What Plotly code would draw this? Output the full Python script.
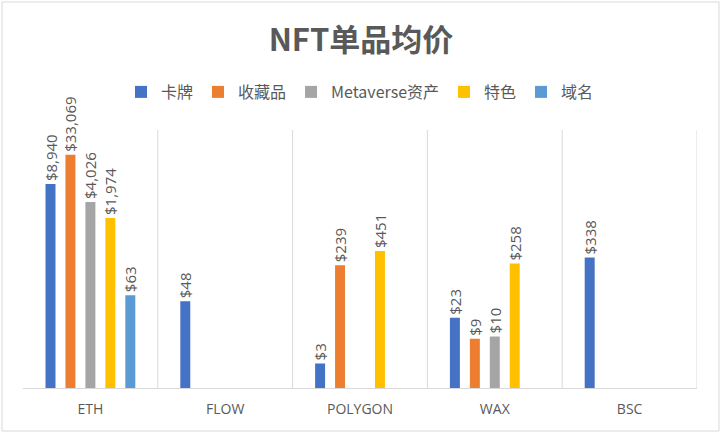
import plotly.graph_objects as go

categories = ["ETH", "FLOW", "POLYGON", "WAX", "BSC"]
series_names = ["卡牌", "收藏品", "Metaverse资产", "特色", "域名"]
card = [8940, 48, 3, 23, 338]
collectible = [33069, None, 239, 9, None]
metaverse = [4026, None, None, 10, None]
special = [1974, None, 451, 258, None]
domain = [63, None, None, None, None]
series_values = [card, collectible, metaverse, special, domain]
colors = ["#4472C4", "#ED7D31", "#A5A5A5", "#FFC000", "#5B9BD5"]

W, H = 722, 434
ml, mr, mt, mb = 23, 25, 130, 46
ph = H - mt - mb

fig = go.Figure()
for name, vals, c in zip(series_names, series_values, colors):
    fig.add_trace(go.Bar(
        x=categories, y=vals, name=name, marker=dict(color=c, line=dict(width=0)),
        texttemplate="$%{y:,.0f}", textposition="outside", textangle=-90,
        constraintext="none",
        textfont=dict(size=15, color="#595959", family="Open Sans"), cliponaxis=False,
    ))

shapes = []
for i in range(len(categories)):
    shapes.append(dict(type="line", xref="x", yref="paper", x0=i + 0.5, x1=i + 0.5,
                       y0=0, y1=1, line=dict(color="#D9D9D9", width=1)))
# chart border
shapes.append(dict(type="rect", xref="paper", yref="paper",
                   x0=-(ml - 2) / (W - ml - mr), x1=1 + (mr - 3) / (W - ml - mr),
                   y0=-(mb - 3) / ph, y1=1 + (mt - 2) / ph,
                   line=dict(color="#D9D9D9", width=1)))

fig.update_layout(
    width=W, height=H,
    margin=dict(l=ml, r=mr, t=mt, b=mb),
    paper_bgcolor="white", plot_bgcolor="white",
    font=dict(family="Noto Sans CJK SC, Open Sans", color="#595959"),
    title=dict(text="<b>NFT单品均价</b>", x=0.5, xanchor="center", y=1 - 40 / H,
               yanchor="middle", font=dict(size=31, color="#595959")),
    legend=dict(orientation="h", x=0.5, xanchor="center", y=1 + 38 / ph, yanchor="middle",
                font=dict(size=16, color="#595959"), itemwidth=30, traceorder="normal"),
    barmode="group", bargap=0.26, bargroupgap=0.5,
    xaxis=dict(showgrid=False, showline=True, linecolor="#D9D9D9", linewidth=1,
               ticks="", tickfont=dict(size=14, color="#595959", family="Open Sans"),
               ticklabelstandoff=8, range=[-0.5, 4.5]),
    yaxis=dict(type="log", range=[0, 5], showgrid=False, showticklabels=False,
               zeroline=False, showline=False, ticks=""),
    shapes=shapes,
    showlegend=True,
)

fig.write_html("out.html", config={"displayModeBar": False},
               post_script="document.body.style.margin='0px';")
